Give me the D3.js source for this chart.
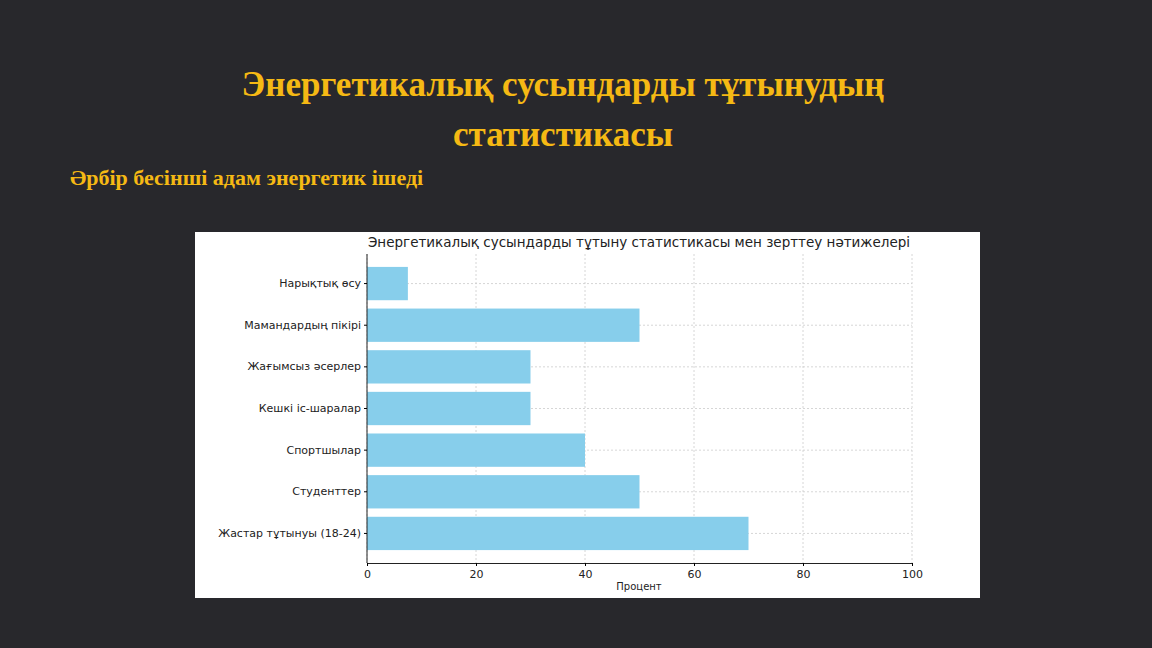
<!DOCTYPE html>
<html><head><meta charset="utf-8">
<script src="https://cdn.jsdelivr.net/npm/d3@7"></script>
<style>body{margin:0;background:#28282c;}svg{display:block}</style>
</head><body>
<svg id="c" width="1152" height="648"></svg>
<script>
const categories=["Нарықтық өсу","Мамандардың пікірі","Жағымсыз әсерлер","Кешкі іс-шаралар","Спортшылар","Студенттер","Жастар тұтынуы (18-24)"];
const values=[7.5,50,30,30,40,50,70];
const xTicks=[0,20,40,60,80,100];
const svg=d3.select("#c");
svg.append("rect").attr("width",1152).attr("height",648).attr("fill","#28282c");
const gold="#f5b914";
svg.append("text").attr("x",563).attr("y",96).attr("text-anchor","middle").attr("fill",gold)
 .style("font-family","Liberation Serif").style("font-weight","bold").style("font-size","35px").text("Энергетикалық сусындарды тұтынудың");
svg.append("text").attr("x",563).attr("y",146).attr("text-anchor","middle").attr("fill",gold)
 .style("font-family","Liberation Serif").style("font-weight","bold").style("font-size","35px").text("статистикасы");
svg.append("text").attr("x",70).attr("y",185).attr("fill",gold)
 .style("font-family","Liberation Serif").style("font-weight","bold").style("font-size","22px").text("Әрбір бесінші адам энергетик ішеді");
svg.append("rect").attr("x",195).attr("y",232).attr("width",785).attr("height",366).attr("fill","#fff");
const x=d3.scaleLinear().domain([0,100]).range([367,912]);
const y=d3.scaleBand().domain(categories).range([254,563]).paddingInner(0.2).paddingOuter(0.31);
const f="DejaVu Sans";
svg.append("text").attr("x",639).attr("y",247).attr("text-anchor","middle").attr("fill","#222")
 .style("font-family",f).style("font-size","13.5px").text("Энергетикалық сусындарды тұтыну статистикасы мен зерттеу нәтижелері");
const g=svg.append("g");
xTicks.forEach(t=>g.append("line").attr("x1",x(t)).attr("x2",x(t)).attr("y1",254).attr("y2",563).attr("stroke","#ccc").attr("stroke-dasharray","2,2").attr("stroke-width",0.8));
categories.forEach(c=>g.append("line").attr("x1",367).attr("x2",912).attr("y1",y(c)+y.bandwidth()/2).attr("y2",y(c)+y.bandwidth()/2).attr("stroke","#ccc").attr("stroke-dasharray","2,2").attr("stroke-width",0.8));
g.selectAll(".b").data(values).join("rect").attr("x",x(0)).attr("y",(d,i)=>y(categories[i]))
 .attr("width",d=>x(d)-x(0)).attr("height",y.bandwidth()).attr("fill","#87ceeb");
const xa=svg.append("g").attr("transform","translate(0,563)").call(d3.axisBottom(x).tickValues(xTicks).tickSize(3).tickPadding(4));
xa.select(".domain").attr("stroke","#222");
xa.selectAll("text").style("font-family",f).style("font-size","11px").attr("fill","#222");
const ya=svg.append("g").attr("transform","translate(367,0)").call(d3.axisLeft(y).tickSize(3).tickPadding(3));
ya.select(".domain").attr("stroke","#222").attr("d","M0,254V563");
ya.selectAll("text").style("font-family",f).style("font-size","11px").attr("fill","#222");
svg.append("text").attr("x",639).attr("y",590).attr("text-anchor","middle").attr("fill","#222")
 .style("font-family",f).style("font-size","10px").text("Процент");
</script></body></html>
